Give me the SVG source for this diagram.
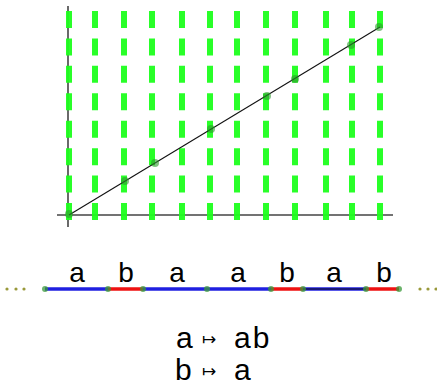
<svg xmlns="http://www.w3.org/2000/svg" width="437" height="387" viewBox="0 0 437 387">
<style>
.ax{stroke:#444;stroke-width:1.6;fill:none}
.dash{stroke:#1eff1e;stroke-width:6;stroke-dasharray:17 10.43;stroke-opacity:0.95;fill:none}
.pt{fill:#2e9a2e;fill-opacity:0.6}
.bpt{fill:#3a9a3a;fill-opacity:0.75}
.a{stroke:#2020e0;stroke-width:3.5}
.b{stroke:#ee1111;stroke-width:3.5}
.lbl{font-family:"Liberation Sans",Arial,sans-serif;font-size:28px;fill:#000;text-anchor:middle}
.rule{font-family:"Liberation Sans",Arial,sans-serif;font-size:30px;fill:#000}
.arr{font-family:"DejaVu Sans",sans-serif;font-size:17px;fill:#000}
.dot{fill:#99993a}
</style>
<rect width="437" height="387" fill="#fff"/>
<g id="axes">
<line class="ax" x1="68" y1="6" x2="68" y2="227"/>
<line class="ax" x1="57" y1="215" x2="393" y2="215"/>
</g>
<g id="grid">
<line class="dash" x1="69" y1="11" x2="69" y2="220"/>
<line class="dash" x1="95" y1="11" x2="95" y2="220"/>
<line class="dash" x1="124" y1="11" x2="124" y2="220"/>
<line class="dash" x1="152" y1="11" x2="152" y2="220"/>
<line class="dash" x1="182" y1="11" x2="182" y2="220"/>
<line class="dash" x1="210" y1="11" x2="210" y2="220"/>
<line class="dash" x1="237" y1="11" x2="237" y2="220"/>
<line class="dash" x1="266" y1="11" x2="266" y2="220"/>
<line class="dash" x1="295" y1="11" x2="295" y2="220"/>
<line class="dash" x1="326" y1="11" x2="326" y2="220"/>
<line class="dash" x1="352" y1="11" x2="352" y2="220"/>
<line class="dash" x1="380" y1="11" x2="380" y2="220"/>
</g>
<g id="slope">
<line x1="69" y1="215" x2="380" y2="27" stroke="#111" stroke-width="1.1"/>
<circle class="pt" cx="69" cy="214" r="4"/>
<circle class="pt" cx="125" cy="181" r="4"/>
<circle class="pt" cx="155" cy="163" r="4"/>
<circle class="pt" cx="211" cy="129" r="4"/>
<circle class="pt" cx="267" cy="96" r="4"/>
<circle class="pt" cx="295" cy="79" r="4"/>
<circle class="pt" cx="351" cy="45" r="4"/>
<circle class="pt" cx="379" cy="27" r="4"/>
</g>
<g id="word">
<line class="a" x1="45" y1="289" x2="108" y2="289"/>
<line class="b" x1="108" y1="289" x2="143" y2="289"/>
<line class="a" x1="143" y1="289" x2="207" y2="289"/>
<line class="a" x1="207" y1="289" x2="271" y2="289"/>
<line class="b" x1="271" y1="289" x2="303" y2="289"/>
<line class="a" x1="303" y1="289" x2="366" y2="289"/>
<line x1="303" y1="289" x2="366" y2="289" stroke="#111" stroke-width="1"/>
<line class="b" x1="366" y1="289" x2="399" y2="289"/>
<circle class="bpt" cx="45" cy="289" r="3"/>
<circle class="bpt" cx="108" cy="289" r="3"/>
<circle class="bpt" cx="143" cy="289" r="3"/>
<circle class="bpt" cx="207" cy="289" r="3"/>
<circle class="bpt" cx="271" cy="289" r="3"/>
<circle class="bpt" cx="303" cy="289" r="3"/>
<circle class="bpt" cx="366" cy="289" r="3"/>
<circle class="bpt" cx="399" cy="289" r="3"/>
<circle class="dot" cx="7" cy="289" r="1.6"/>
<circle class="dot" cx="16" cy="289" r="1.6"/>
<circle class="dot" cx="24" cy="289" r="1.6"/>
<circle class="dot" cx="420" cy="289" r="1.6"/>
<circle class="dot" cx="428" cy="289" r="1.6"/>
<circle class="dot" cx="436" cy="289" r="1.6"/>
<text class="lbl" x="77" y="282">a</text>
<text class="lbl" x="126" y="282">b</text>
<text class="lbl" x="177" y="282">a</text>
<text class="lbl" x="238" y="282">a</text>
<text class="lbl" x="287" y="282">b</text>
<text class="lbl" x="334" y="282">a</text>
<text class="lbl" x="384" y="282">b</text>
</g>
<g id="rules">
<text class="rule" x="176" y="348">a</text>
<text class="arr" x="202" y="345">↦</text>
<text class="rule" x="234" y="348" letter-spacing="2">ab</text>
<text class="rule" x="175" y="380">b</text>
<text class="arr" x="202" y="377">↦</text>
<text class="rule" x="234" y="380">a</text>
</g>
</svg>
